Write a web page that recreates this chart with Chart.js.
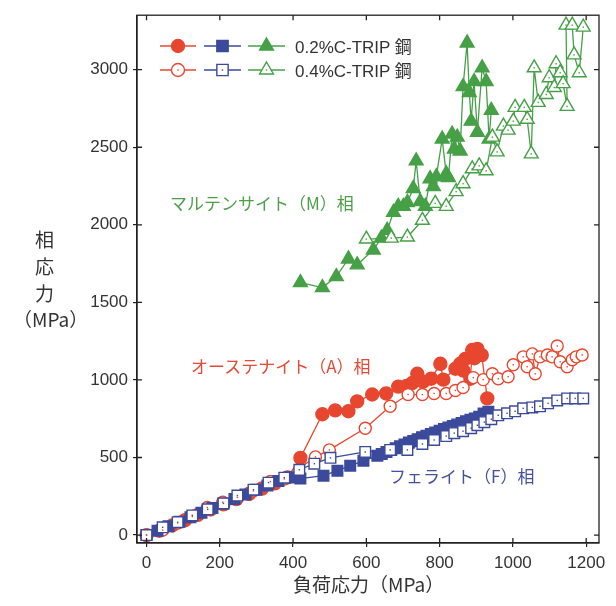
<!DOCTYPE html>
<html>
<head>
<meta charset="utf-8">
<script src="https://cdn.jsdelivr.net/npm/chart.js@4.4.0/dist/chart.umd.min.js"></script>
<style>
    body { margin: 0; background: #fff; }
    #wrap { position: relative; width: 616px; height: 606px; }
    .lbl { position: absolute; white-space: nowrap; line-height: 1; font-family: "Noto Sans CJK JP", "Noto Sans", sans-serif; }
    .lgd { position: absolute; white-space: nowrap; line-height: 1; font-family: "Liberation Sans", "Noto Sans CJK JP", sans-serif; font-size: 17px; color: #333; }
</style>
</head>
<body>
<div id="wrap">
    <canvas id="phaseChart" width="616" height="606"></canvas>
    <div class="lgd" style="left:295px;top:37px;">0.2%C-TRIP <span style="font-family:'Noto Sans CJK JP'">鋼</span></div>
    <div class="lgd" style="left:295px;top:61px;">0.4%C-TRIP <span style="font-family:'Noto Sans CJK JP'">鋼</span></div>
    <div class="lbl" style="left:170px;top:194px;font-size:17px;color:#4c9e49;">マルテンサイト（M）相</div>
    <div class="lbl" style="left:191px;top:357px;font-size:17px;color:#e44a35;">オーステナイト（A）相</div>
    <div class="lbl" style="left:389px;top:467px;font-size:17px;color:#46509c;">フェライト（F）相</div>
    <div class="lbl" style="left:35px;top:229px;font-size:19px;color:#333;">相</div>
    <div class="lbl" style="left:35px;top:256px;font-size:19px;color:#333;">応</div>
    <div class="lbl" style="left:35px;top:283px;font-size:19px;color:#333;">力</div>
    <div class="lbl" style="left:13px;top:309px;font-size:19px;color:#333;">（MPa）</div>
    <div class="lbl" style="left:293px;top:574px;font-size:19px;color:#333;">負荷応力（MPa）</div>
</div>
<script>
// ========== Data ==========
const xTicks = [0, 200, 400, 600, 800, 1000, 1200];
const yTicks = [0, 500, 1000, 1500, 2000, 2500, 3000];

// 0.2%C-TRIP (filled)
const redFilledX = [0, 35, 70, 105, 140, 175, 210, 245, 280, 315, 350, 385, 420, 480, 515, 551, 575, 616, 654, 687, 710, 725, 739, 755, 777, 802, 810, 843, 856, 865, 870, 884, 889, 895, 903, 915, 930];
const redFilledY = [0, 28, 62, 96, 130, 165, 198, 232, 266, 300, 333, 372, 498, 779, 804, 798, 862, 906, 913, 957, 962, 980, 1040, 989, 1008, 1104, 1002, 1072, 1104, 1060, 1136, 1008, 1193, 1140, 1200, 1160, 881];
const blueFilledX = [0, 30, 60, 90, 120, 150, 180, 210, 240, 270, 300, 330, 360, 390, 420, 483, 521, 556, 592, 630, 642, 655, 668, 680, 692, 704, 716, 728, 740, 752, 764, 776, 788, 800, 812, 824, 836, 848, 860, 872, 884, 896, 908, 920, 933];
const blueFilledY = [0, 28, 57, 86, 115, 144, 174, 203, 232, 262, 292, 320, 348, 372, 364, 383, 415, 447, 479, 511, 522, 535, 549, 560, 572, 584, 596, 607, 618, 630, 641, 652, 662, 672, 683, 693, 703, 713, 723, 733, 743, 752, 762, 783, 795];
const greenFilledX = [420, 480, 518, 551, 575, 619, 641, 657, 674, 687, 701, 712, 728, 736, 747, 761, 774, 783, 791, 807, 818, 824, 834, 840, 848, 856, 864, 875, 881, 886, 894, 903, 916, 927, 935, 941];
const greenFilledY = [1627, 1595, 1666, 1780, 1742, 1838, 1914, 1965, 2080, 2119, 2119, 2144, 2234, 2412, 2150, 2119, 2297, 2246, 2310, 2553, 2329, 2304, 2585, 2489, 2565, 2476, 2891, 3172, 2853, 2668, 2923, 2597, 3012, 2923, 2553, 2738];

// 0.4%C-TRIP (open)
const redOpenX = [0, 44, 85, 125, 166, 208, 248, 292, 338, 376, 461, 499, 597, 665, 714, 753, 785, 818, 843, 864, 892, 919, 944, 960, 987, 1001, 1028, 1039, 1053, 1061, 1074, 1094, 1107, 1121, 1129, 1148, 1162, 1173, 1189];
const redOpenY = [0, 32, 78, 120, 178, 212, 243, 285, 345, 362, 504, 549, 689, 830, 906, 906, 913, 913, 932, 951, 1015, 1002, 1040, 1008, 1021, 1098, 1149, 1085, 1168, 1040, 1149, 1161, 1149, 1219, 1117, 1085, 1130, 1149, 1161];
const blueOpenX = [0, 44, 85, 125, 167, 210, 248, 292, 333, 376, 417, 458, 502, 597, 665, 712, 753, 785, 818, 840, 864, 886, 903, 922, 941, 960, 984, 1006, 1028, 1053, 1074, 1096, 1121, 1148, 1170, 1192];
const blueOpenY = [0, 50, 83, 127, 166, 204, 255, 293, 338, 370, 421, 460, 498, 536, 549, 549, 587, 613, 638, 657, 670, 689, 708, 728, 747, 772, 785, 798, 817, 823, 830, 849, 868, 881, 881, 881];
const greenOpenX = [600, 668, 712, 753, 788, 818, 845, 864, 889, 908, 927, 944, 957, 974, 987, 1001, 1006, 1031, 1039, 1050, 1058, 1069, 1091, 1099, 1113, 1118, 1129, 1137, 1148, 1145, 1162, 1167, 1181, 1192];
const greenOpenY = [1908, 1914, 1921, 2029, 2138, 2119, 2214, 2265, 2361, 2380, 2348, 2565, 2470, 2636, 2610, 2668, 2757, 2757, 2680, 2457, 3012, 2789, 2840, 2948, 2885, 3038, 2980, 2910, 2763, 3287, 3287, 3095, 2980, 3274];

const RED = '#e8472f';
const BLUE = '#3b4a9b';
const GREEN = '#45a046';

function pts(xs, ys) {
    return xs.map((x, i) => ({ x: x, y: ys[i] }));
}

function series(label, xs, ys, color, style, radius, open) {
    return {
        label: label,
        data: pts(xs, ys),
        showLine: true,
        borderColor: color,
        borderWidth: 1.3,
        pointStyle: style,
        pointRadius: radius,
        pointBorderWidth: 1.4,
        pointBorderColor: color,
        pointBackgroundColor: open ? '#fff' : color,
        centerDot: open,
        tension: 0
    };
}

// ========== Plugins ==========
const frameTicks = {
    id: 'frameTicks',
    afterDraw(chart) {
        const { ctx, chartArea: a, scales } = chart;
        ctx.save();
        ctx.strokeStyle = '#222';
        ctx.lineWidth = 1.3;
        ctx.strokeRect(a.left, a.top, a.right - a.left, a.bottom - a.top);
        ctx.beginPath();
        xTicks.forEach(v => {
            const px = scales.x.getPixelForValue(v);
            ctx.moveTo(px, a.bottom); ctx.lineTo(px, a.bottom - 5);
            ctx.moveTo(px, a.top); ctx.lineTo(px, a.top + 5);
        });
        yTicks.forEach(v => {
            const py = scales.y.getPixelForValue(v);
            ctx.moveTo(a.left, py); ctx.lineTo(a.left + 5, py);
            ctx.moveTo(a.right, py); ctx.lineTo(a.right - 5, py);
        });
        ctx.stroke();
        ctx.restore();
    }
};

const centerDots = {
    id: 'centerDots',
    afterDatasetsDraw(chart) {
        const ctx = chart.ctx;
        ctx.save();
        chart.data.datasets.forEach((ds, i) => {
            if (!ds.centerDot) return;
            ctx.fillStyle = ds.borderColor;
            chart.getDatasetMeta(i).data.forEach(p => {
                ctx.fillRect(p.x - 0.7, p.y - 0.7, 1.4, 1.4);
            });
        });
        ctx.restore();
    }
};

const legendMarks = {
    id: 'legendMarks',
    afterDraw(chart) {
        const ctx = chart.ctx;
        const rows = [{ y: 46, open: false }, { y: 70, open: true }];
        const cols = [
            { x0: 160, x1: 196, c: RED, s: 'circle', r: 6.5 },
            { x0: 204, x1: 241, c: BLUE, s: 'rect', r: 8 },
            { x0: 248, x1: 285, c: GREEN, s: 'triangle', r: 8 }
        ];
        ctx.save();
        rows.forEach(row => {
            cols.forEach(col => {
                ctx.strokeStyle = col.c;
                ctx.lineWidth = 1.3;
                ctx.beginPath();
                ctx.moveTo(col.x0, row.y); ctx.lineTo(col.x1, row.y);
                ctx.stroke();
                const cx = (col.x0 + col.x1) / 2;
                ctx.fillStyle = row.open ? '#fff' : col.c;
                ctx.lineWidth = 1.4;
                Chart.helpers.drawPoint(ctx, { pointStyle: col.s, radius: col.r, borderWidth: 1.4, rotation: 0 }, cx, row.y);
                if (row.open) {
                    ctx.fillStyle = col.c;
                    ctx.fillRect(cx - 0.7, row.y - 0.7, 1.4, 1.4);
                }
            });
        });
        ctx.restore();
    }
};

// ========== Chart ==========
function generateChart() {
    const ctx = document.getElementById('phaseChart').getContext('2d');
    new Chart(ctx, {
        type: 'scatter',
        data: {
            datasets: [
                series('0.4%C F', blueOpenX, blueOpenY, BLUE, 'rect', 7.5, true),
                series('0.2%C F', blueFilledX, blueFilledY, BLUE, 'rect', 7.5, false),
                series('0.4%C A', redOpenX, redOpenY, RED, 'circle', 6, true),
                series('0.2%C A', redFilledX, redFilledY, RED, 'circle', 6.5, false),
                series('0.4%C M', greenOpenX, greenOpenY, GREEN, 'triangle', 8, true),
                series('0.2%C M', greenFilledX, greenFilledY, GREEN, 'triangle', 8, false)
            ]
        },
        options: {
            responsive: false,
            animation: false,
            devicePixelRatio: 1,
            layout: { padding: { left: 0, top: 10, right: 17, bottom: 0 } },
            plugins: {
                legend: { display: false },
                tooltip: { enabled: false }
            },
            scales: {
                x: {
                    type: 'linear',
                    min: -26, max: 1235,
                    afterFit(scale) { scale.height = 63; },
                    afterBuildTicks(scale) { scale.ticks = xTicks.map(v => ({ value: v })); },
                    grid: { drawOnChartArea: false, drawTicks: true, tickLength: 4, color: '#222', lineWidth: 1.2 },
                    border: { display: true, color: '#222', width: 1.3 },
                    ticks: { padding: 6, color: '#333', font: { family: 'Liberation Sans', size: 17 }, maxRotation: 0, callback: v => String(v) }
                },
                y: {
                    type: 'linear',
                    min: -51, max: 3351,
                    afterFit(scale) { scale.width = 137; },
                    afterBuildTicks(scale) { scale.ticks = yTicks.map(v => ({ value: v })); },
                    grid: { drawOnChartArea: false, drawTicks: true, tickLength: 4, color: '#222', lineWidth: 1.2 },
                    border: { display: true, color: '#222', width: 1.3 },
                    ticks: { padding: 5, color: '#333', font: { family: 'Liberation Sans', size: 17 }, callback: v => String(v) }
                }
            }
        },
        plugins: [frameTicks, centerDots, legendMarks]
    });
}

document.addEventListener('DOMContentLoaded', () => {
    generateChart();
});
</script>
</body>
</html>
